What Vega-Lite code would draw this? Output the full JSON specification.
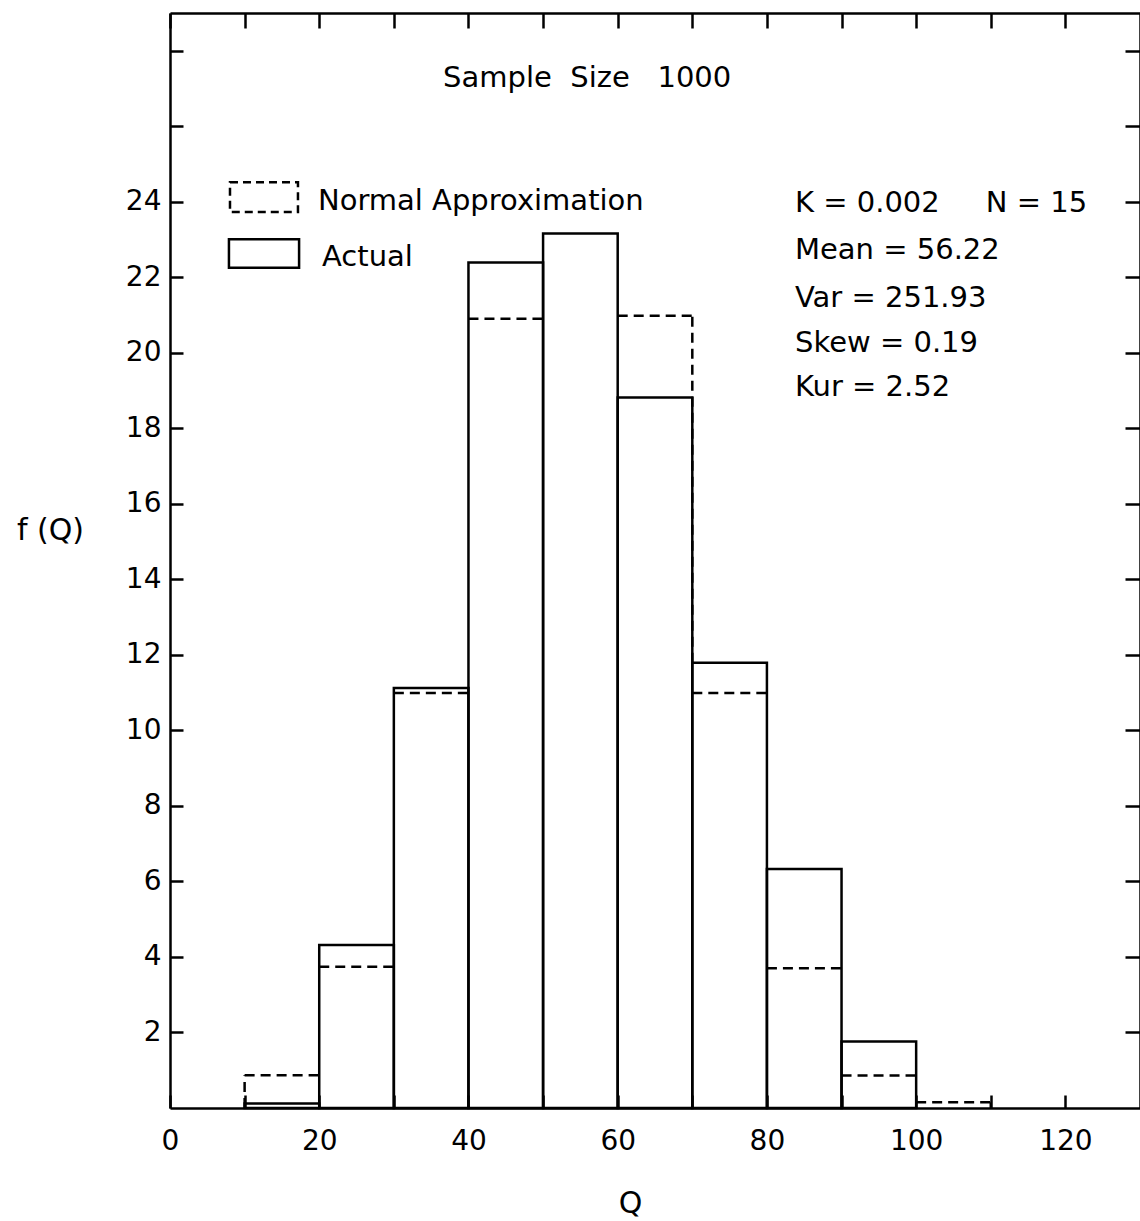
{
  "$schema": "https://vega.github.io/schema/vega-lite/v6.json",
  "width": 970,
  "height": 1095,
  "autosize": {"type": "none"},
  "padding": {"left": 170, "top": 13, "right": 0, "bottom": 113},
  "background": "white",
  "config": {
    "view": {"stroke": null},
    "axis": {
      "domainColor": "black", "domainWidth": 2.5,
      "tickColor": "black", "tickWidth": 2.5,
      "labelColor": "black", "titleColor": "black",
      "labelFont": "DejaVu Sans", "titleFont": "DejaVu Sans",
      "labelFontSize": 28, "titleFontSize": 30, "titleFontWeight": "normal",
      "labelFlush": false, "grid": false
    },
    "text": {"font": "DejaVu Sans", "color": "black"}
  },
  "datasets": {
    "bins": [
      {"lo": 10, "hi": 20, "actual": 0.12, "normal": 0.87},
      {"lo": 20, "hi": 30, "actual": 4.32, "normal": 3.74},
      {"lo": 30, "hi": 40, "actual": 11.12, "normal": 10.99},
      {"lo": 40, "hi": 50, "actual": 22.39, "normal": 20.9},
      {"lo": 50, "hi": 60, "actual": 23.16, "normal": null},
      {"lo": 60, "hi": 70, "actual": 18.82, "normal": 20.98},
      {"lo": 70, "hi": 80, "actual": 11.79, "normal": 10.99},
      {"lo": 80, "hi": 90, "actual": 6.33, "normal": 3.7},
      {"lo": 90, "hi": 100, "actual": 1.76, "normal": 0.86},
      {"lo": 100, "hi": 110, "actual": 0, "normal": 0.15}
    ],
    "sides": [
      {"edge": 10, "from": 0, "to": 0.87},
      {"edge": 70, "from": 11.79, "to": 20.98},
      {"edge": 110, "from": 0, "to": 0.15}
    ],
    "legendBoxes": [
      {"series": "Normal Approximation", "x1": 8.04, "x2": 17.15, "y1": 23.73, "y2": 24.52},
      {"series": "Actual", "x1": 7.9, "x2": 17.3, "y1": 22.25, "y2": 23.01}
    ],
    "labels": [
      {"text": "Sample\u00a0\u00a0Size\u00a0\u00a0 1000", "x": 36.6, "y": 27.28},
      {"text": "Normal Approximation", "x": 19.83, "y": 24.02},
      {"text": "Actual", "x": 20.37, "y": 22.54},
      {"text": "K = 0.002\u00a0\u00a0\u00a0\u00a0\u00a0N = 15", "x": 83.76, "y": 23.97},
      {"text": "Mean = 56.22", "x": 83.76, "y": 22.72},
      {"text": "Var = 251.93", "x": 83.76, "y": 21.45},
      {"text": "Skew = 0.19", "x": 83.76, "y": 20.26},
      {"text": "Kur = 2.52", "x": 83.76, "y": 19.09}
    ]
  },
  "layer": [
    {
      "data": {"name": "bins"},
      "transform": [{"filter": "datum.actual > 0"}],
      "mark": {"type": "rect", "filled": false, "stroke": "black", "strokeWidth": 2.5},
      "encoding": {
        "x": {
          "field": "lo", "type": "quantitative",
          "scale": {"domain": [0, 130], "nice": false, "zero": false},
          "axis": {
            "orient": "bottom", "title": "Q",
            "values": [0, 10, 20, 30, 40, 50, 60, 70, 80, 90, 100, 110, 120],
            "labelExpr": "datum.value % 20 == 0 ? datum.label : ''",
            "tickSize": -13, "labelPadding": 32,
            "titleX": 460, "titleY": 95, "titleBaseline": "middle"
          }
        },
        "x2": {"field": "hi"},
        "y": {
          "field": "actual", "type": "quantitative",
          "scale": {"domain": [0, 29], "nice": false, "zero": false},
          "axis": {
            "orient": "left", "title": "f (Q)",
            "values": [2, 4, 6, 8, 10, 12, 14, 16, 18, 20, 22, 24, 26, 28],
            "labelExpr": "datum.value <= 24 ? datum.label : ''",
            "tickSize": -13, "labelPadding": 22,
            "titleAngle": 0, "titleX": -120, "titleY": 517,
            "titleAlign": "center", "titleBaseline": "middle"
          }
        },
        "y2": {"datum": 0}
      }
    },
    {
      "data": {"name": "bins"},
      "transform": [{"filter": "datum.normal != null"}],
      "mark": {"type": "rule", "stroke": "black", "strokeWidth": 2.5, "strokeDash": [10, 6]},
      "encoding": {
        "x": {"field": "lo", "type": "quantitative", "axis": null},
        "x2": {"field": "hi"},
        "y": {"field": "normal", "type": "quantitative", "axis": null}
      }
    },
    {
      "data": {"name": "sides"},
      "mark": {"type": "rule", "stroke": "black", "strokeWidth": 2.5, "strokeDash": [10, 6]},
      "encoding": {
        "x": {"field": "edge", "type": "quantitative", "axis": null},
        "y": {"field": "from", "type": "quantitative", "axis": null},
        "y2": {"field": "to"}
      }
    },
    {
      "data": {"name": "legendBoxes"},
      "transform": [{"filter": "datum.series == 'Normal Approximation'"}],
      "mark": {"type": "rect", "filled": false, "stroke": "black", "strokeWidth": 2.5, "strokeDash": [8, 5]},
      "encoding": {
        "x": {"field": "x1", "type": "quantitative", "axis": null},
        "x2": {"field": "x2"},
        "y": {"field": "y1", "type": "quantitative", "axis": null},
        "y2": {"field": "y2"}
      }
    },
    {
      "data": {"name": "legendBoxes"},
      "transform": [{"filter": "datum.series == 'Actual'"}],
      "mark": {"type": "rect", "filled": false, "stroke": "black", "strokeWidth": 2.5},
      "encoding": {
        "x": {"field": "x1", "type": "quantitative", "axis": null},
        "x2": {"field": "x2"},
        "y": {"field": "y1", "type": "quantitative", "axis": null},
        "y2": {"field": "y2"}
      }
    },
    {
      "data": {"name": "labels"},
      "mark": {"type": "text", "align": "left", "baseline": "middle", "fontSize": 29, "font": "DejaVu Sans"},
      "encoding": {
        "x": {"field": "x", "type": "quantitative", "axis": null},
        "y": {"field": "y", "type": "quantitative", "axis": null},
        "text": {"field": "text"}
      }
    },
    {
      "data": {"name": "labels"},
      "mark": {"type": "point", "opacity": 0},
      "encoding": {
        "x": {
          "field": "x", "type": "quantitative",
          "axis": {
            "orient": "top", "title": null, "labels": false,
            "values": [0, 10, 20, 30, 40, 50, 60, 70, 80, 90, 100, 110, 120],
            "tickSize": -15
          }
        },
        "y": {
          "field": "y", "type": "quantitative",
          "axis": {
            "orient": "right", "title": null, "labels": false,
            "values": [2, 4, 6, 8, 10, 12, 14, 16, 18, 20, 22, 24, 26, 28],
            "tickSize": -15
          }
        }
      }
    }
  ],
  "resolve": {"axis": {"x": "independent", "y": "independent"}}
}
